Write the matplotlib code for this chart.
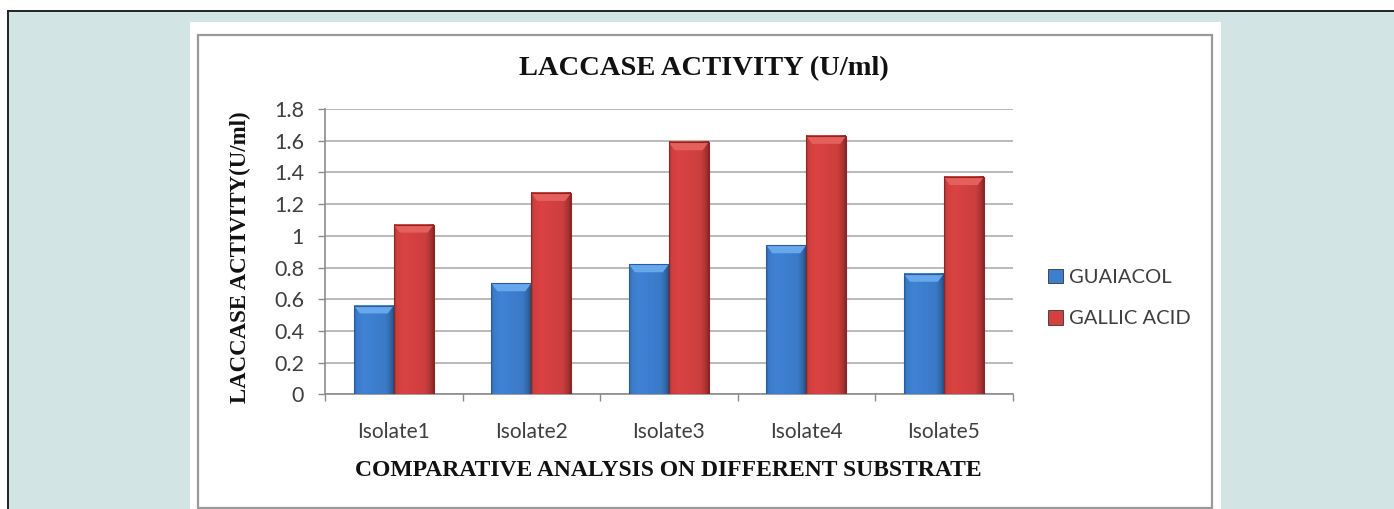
import numpy as np
import matplotlib
matplotlib.use('Agg')
import matplotlib.pyplot as plt
from matplotlib.patches import Rectangle, Polygon
from matplotlib.lines import Line2D
from matplotlib.colors import to_rgb

# laccase activity per isolate on two substrates
isolates = ['Isolate1', 'Isolate2', 'Isolate3', 'Isolate4', 'Isolate5']
guaiacol = [0.56, 0.70, 0.82, 0.94, 0.76]
gallic_acid = [1.07, 1.27, 1.59, 1.63, 1.37]
yticks = [0, 0.2, 0.4, 0.6, 0.8, 1.0, 1.2, 1.4, 1.6, 1.8]
ytick_labels = ['0', '0.2', '0.4', '0.6', '0.8', '1', '1.2', '1.4', '1.6', '1.8']

W, H = 1394, 509
fig = plt.figure(figsize=(W / 100, H / 100), dpi=100)
fig.patch.set_facecolor('white')

def fx(px):
    return px / W

def fy(py):
    return 1 - py / H

# page background with a dark frame at top and left
fig.patches.append(Rectangle((fx(9), 0), 1 - fx(9), fy(12), transform=fig.transFigure,
                             facecolor='#d2e5e4', edgecolor='none', zorder=0))
fig.add_artist(Line2D([fx(8), 1], [fy(11), fy(11)], color='#222222', lw=1.4, zorder=1))
fig.add_artist(Line2D([fx(8), fx(8)], [0, fy(11)], color='#222222', lw=1.4, zorder=1))

# white chart panel with its grey frame
fig.patches.append(Rectangle((fx(190), 0), fx(1221) - fx(190), fy(22), transform=fig.transFigure,
                             facecolor='white', edgecolor='none', zorder=1))
fig.patches.append(Rectangle((fx(198), fy(508)), fx(1212) - fx(198), fy(35) - fy(508),
                             transform=fig.transFigure, facecolor='none', edgecolor='#9a9a9a',
                             lw=1.6, zorder=2))

ax = fig.add_axes([fx(325), fy(394.3), fx(1012.5) - fx(325), fy(109) - fy(394.3)])
ax.set_facecolor('none')
ax.set_zorder(3)

x = np.arange(len(isolates))
bw = 0.29
b1 = ax.bar(x - bw / 2, guaiacol, bw, color='#3d7fcf', label='GUAIACOL', zorder=3)
b2 = ax.bar(x + bw / 2, gallic_acid, bw, color='#d24040', label='GALLIC ACID', zorder=3)


def shade(bars, base, top, edge):
    # bevelled look: darker sides, lighter chamfered top
    px = np.array([0, 0.06, 0.25, 0.8, 0.93, 1.0])
    pv = np.array([0.80, 0.97, 1.03, 0.96, 0.80, 0.62])
    f = np.interp(np.linspace(0, 1, 64), px, pv)
    c = np.array(to_rgb(base))
    img = np.clip(f[None, :, None] * c[None, None, :], 0, 1)
    for p in bars:
        x0, w, h = p.get_x(), p.get_width(), p.get_height()
        ax.imshow(img, extent=[x0, x0 + w, 0, h], aspect='auto', zorder=3.1,
                  interpolation='bilinear')
        bev = 0.05
        ins = w * 0.15
        ax.add_patch(Polygon([[x0, h], [x0 + w, h], [x0 + w - ins, h - bev], [x0 + ins, h - bev]],
                             closed=True, facecolor=top, edgecolor='none', zorder=3.2))
        ax.add_patch(Rectangle((x0, 0), w, h, fill=False, edgecolor=edge, lw=0.8, zorder=3.3))


shade(b1, '#3d7fcf', '#67a7ec', '#2a5c9c')
shade(b2, '#d44140', '#e4605c', '#8e2424')

ax.set_xlim(-0.5, len(isolates) - 0.5)
ax.set_ylim(0, 1.8)
ax.set_yticks(yticks)
ax.set_yticklabels(ytick_labels)
ax.set_xticks(x)
ax.set_xticklabels(isolates)
ax.set_xticks(np.arange(len(isolates) + 1) - 0.5, minor=True)

ax.grid(axis='y', color='#b4b4b4', lw=1.3, zorder=0)
ax.set_axisbelow(True)
for s in ['top', 'right']:
    ax.spines[s].set_visible(False)
for s in ['left', 'bottom']:
    ax.spines[s].set_color('#8c8c8c')
    ax.spines[s].set_linewidth(1.2)

ax.tick_params(axis='y', length=5, width=1, color='#8c8c8c', pad=10,
               labelsize=15.5, labelcolor='#3f3f3f')
ax.tick_params(axis='x', which='major', length=0, pad=20, labelsize=15, labelcolor='#3f3f3f')
ax.tick_params(axis='x', which='minor', length=5, width=1, color='#8c8c8c')
for t in ax.get_xticklabels() + ax.get_yticklabels():
    t.set_fontfamily('Lato')

fig.text(fx(704), fy(69), 'LACCASE ACTIVITY (U/ml)', family='Liberation Serif',
         weight='bold', fontsize=20.5, ha='center', va='center', color='#111111')
fig.text(fx(668), fy(470.5), 'COMPARATIVE ANALYSIS ON DIFFERENT SUBSTRATE',
         family='Liberation Serif', weight='bold', fontsize=17, ha='center', va='center',
         color='#111111')
fig.text(fx(240), fy(257), 'LACCASE ACTIVITY(U/ml)', family='Liberation Serif',
         weight='bold', fontsize=16.5, ha='center', va='center', rotation=90, color='#111111')

leg = fig.legend(handles=[b1, b2], loc='center left', bbox_to_anchor=(fx(1030), fy(298)),
                 frameon=False, handlelength=0.75, handleheight=0.75, handletextpad=0.3,
                 labelspacing=1.2, prop={'family': 'Lato', 'size': 14.5})
for t in leg.get_texts():
    t.set_color('#3f3f3f')
for h in leg.legend_handles:
    h.set_edgecolor('#333333')
    h.set_linewidth(0.6)

fig.savefig('out.png', dpi=100)
